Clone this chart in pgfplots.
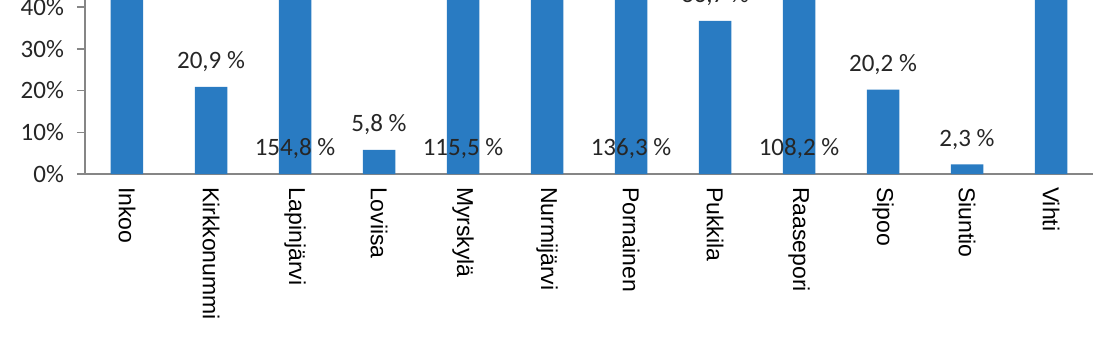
\documentclass[border=0pt]{standalone}
\usepackage{pgfplots}
\pgfplotsset{compat=1.18}
\usepackage{fontspec}
\setmainfont{Carlito}
\newfontfamily\catfont{Liberation Sans}
\definecolor{barblue}{RGB}{41,123,194}
\definecolor{axisgrey}{RGB}{134,134,134}
\definecolor{labelgrey}{RGB}{38,38,38}

\begin{document}
\begin{tikzpicture}
\begin{axis}[
  scale only axis, width=504pt, height=87pt,
  xmin=-0.5, xmax=11.5, ymin=0, ymax=41.7,
  axis lines*=left,
  axis line style={axisgrey, line width=0.75pt},
  tick align=outside, major tick length=4pt,
  /pgf/number format/assume math mode=true,
  ytick={0,10,20,30,40},
  yticklabels={0\%,10\%,20\%,30\%,40\%},
  y tick label style={font=\fontsize{12.5}{15}\selectfont, text=labelgrey, xshift=-3pt},
  ytick style={axisgrey, line width=0.75pt},
  xtick={0,...,11},
  xticklabels={Inkoo,Kirkkonummi,Lapinjärvi,Loviisa,Myrskylä,Nurmijärvi,Pornainen,Pukkila,Raasepori,Sipoo,Siuntio,Vihti},
  x tick label style={font=\catfont\fontsize{11.5}{14}\selectfont, rotate=-90, anchor=west, text=black, xshift=-1pt},
  xtick style={draw=none},
  clip=true,
]
% municipal growth, percent
\addplot[ybar, bar width=16.25pt, fill=barblue, draw=none] coordinates {
  (0,64.0) (1,20.9) (2,154.8) (3,5.8) (4,115.5) (5,58.0)
  (6,136.3) (7,36.7) (8,108.2) (9,20.2) (10,2.3) (11,71.0)};
% value labels above the bars that fit the scale
\addplot[draw=none, mark=none, point meta=y,
  nodes near coords={\pgfmathprintnumber[fixed,fixed zerofill,precision=1,use comma,assume math mode=true]{\pgfplotspointmeta}~\%},
  every node near coord/.append style={font=\fontsize{12.5}{15}\selectfont, text=labelgrey, anchor=center, yshift=12.5pt}]
  coordinates {(1,20.9) (3,5.8) (7,36.7) (9,20.2) (10,2.3)};
% value labels of the bars beyond the scale, set low on the bar
\addplot[draw=none, mark=none, point meta=explicit,
  nodes near coords={\pgfmathprintnumber[fixed,fixed zerofill,precision=1,use comma,assume math mode=true]{\pgfplotspointmeta}~\%},
  every node near coord/.append style={font=\fontsize{12.5}{15}\selectfont, text=labelgrey, anchor=center}]
  coordinates {(2,6.2) [154.8] (4,6.2) [115.5] (6,6.2) [136.3] (8,6.2) [108.2]};
\end{axis}
\pgfresetboundingbox
\path[use as bounding box] (-42.5pt,-84.5pt) rectangle (505pt,87pt);
\end{tikzpicture}
\end{document}
